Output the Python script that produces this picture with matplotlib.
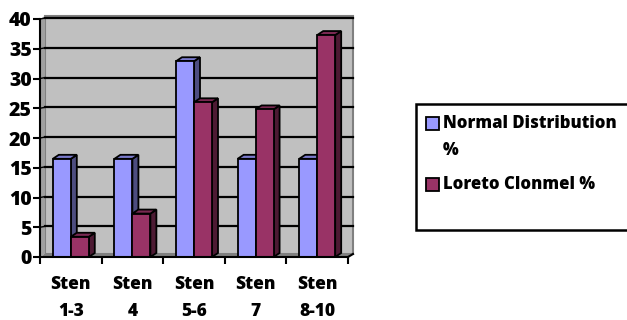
import numpy as np
import matplotlib.pyplot as plt
from matplotlib.patches import Polygon, Rectangle

categories = ['Sten\n1-3', 'Sten\n4', 'Sten\n5-6', 'Sten\n7', 'Sten\n8-10']
normal = [16.5, 16.5, 32.9, 16.5, 16.5]
loreto = [3.4, 7.3, 26.0, 24.8, 37.3]
series_names = ['Normal Distribution\n%', 'Loreto Clonmel %']

W, H = 627, 320
fig = plt.figure(figsize=(W / 100, H / 100), dpi=100)
plt.rcParams['font.family'] = ['Open Sans', 'DejaVu Sans']
WT = 'heavy'

# front plot area in pixels
x0, x1, y0, y1 = 40, 348, 257, 19
ax = fig.add_axes([x0 / W, 1 - y0 / H, (x1 - x0) / W, (y0 - y1) / H])
ax.set_xlim(0, 5)
ax.set_ylim(0, 40)
ax.set_facecolor('none')

# pixel -> data offsets for the 3d look
pxx = 5 / (x1 - x0)
pxy = 40 / (y0 - y1)
wall_dx, wall_dy = 5 * pxx, 3 * pxy
bar_dx, bar_dy = 6 * pxx, 4 * pxy

# back wall, floor and side wall
ax.add_patch(Polygon([(wall_dx, wall_dy), (5 + wall_dx, wall_dy), (5 + wall_dx, 40 + wall_dy),
                      (wall_dx, 40 + wall_dy)], closed=True, fc='#c0c0c0', ec='#808080',
                     lw=1.5, zorder=0, clip_on=False))
ax.add_patch(Polygon([(0, 0), (wall_dx, wall_dy), (wall_dx, 40 + wall_dy), (0, 40)], closed=True,
                     fc='#a0a0a0', ec='none', zorder=0, clip_on=False))
ax.add_patch(Polygon([(0, 0), (5, 0), (5 + wall_dx, wall_dy), (wall_dx, wall_dy)], closed=True,
                     fc='#808080', ec='none', zorder=0, clip_on=False))
for v in range(5, 45, 5):
    ax.plot([wall_dx, 5 + wall_dx], [v + wall_dy * 0.3, v + wall_dy * 0.3], color='black',
            lw=1.6, zorder=1, clip_on=False)
    ax.plot([0, wall_dx], [v, v + wall_dy * 0.3], color='black', lw=1.0, zorder=1, clip_on=False)

bw = 0.292
centers = np.arange(len(categories)) + 0.5
styles = [('#9999ff', '#7a7acc', '#4d4d80'), ('#993366', '#7a2952', '#4d1a33')]
for si, vals in enumerate([normal, loreto]):
    front, top, side = styles[si]
    xs = centers - bw + si * bw
    bars = ax.bar(xs, vals, width=bw, align='edge', color=front, edgecolor='black', lw=1.3,
                  zorder=3 + si)
    for b in bars:
        bx, by, bwid, bh = b.get_x(), b.get_y(), b.get_width(), b.get_height()
        ax.add_patch(Polygon([(bx + bwid, by), (bx + bwid + bar_dx, by + bar_dy),
                              (bx + bwid + bar_dx, bh + bar_dy), (bx + bwid, bh)], closed=True,
                             fc=side, ec='black', lw=1.3, zorder=2.5 + si, clip_on=False))
        ax.add_patch(Polygon([(bx, bh), (bx + bwid, bh), (bx + bwid + bar_dx, bh + bar_dy),
                              (bx + bar_dx, bh + bar_dy)], closed=True,
                             fc=top, ec='black', lw=1.3, zorder=2.5 + si, clip_on=False))

for s in ['top', 'right']:
    ax.spines[s].set_visible(False)
for s in ['left', 'bottom']:
    ax.spines[s].set_linewidth(1.5)
    ax.spines[s].set_zorder(6)
ax.plot([5, 5 + wall_dx], [0, wall_dy], color='black', lw=1.5, clip_on=False, zorder=6)

ax.set_yticks(range(0, 45, 5))
ax.tick_params(axis='y', length=5, width=1.5, labelsize=14, pad=1)
for t in ax.get_yticklabels():
    t.set_fontweight(WT)
ax.set_xticks(centers)
ax.set_xticklabels(categories, fontsize=12.5, fontweight=WT, linespacing=1.75)
ax.set_xticks(np.arange(0, 6), minor=True)
ax.tick_params(axis='x', which='major', length=0, pad=14)
ax.tick_params(axis='x', which='minor', length=5, width=1.5)

# legend drawn by hand
lx0, ly0, lx1, ly1 = 416, 104, 640, 230
fig.patches.append(Rectangle((lx0 / W, 1 - ly1 / H), (lx1 - lx0) / W, (ly1 - ly0) / H,
                             transform=fig.transFigure, fc='white', ec='black', lw=1.8))
for i, (name, (front, _, _)) in enumerate(zip(series_names, styles)):
    sy = [117, 178][i]
    fig.patches.append(Rectangle((426 / W, 1 - (sy + 13) / H), 13 / W, 13 / H,
                                 transform=fig.transFigure, fc=front, ec='black', lw=1.3))
    fig.text(443 / W, 1 - (sy - 2) / H, name, fontsize=12, fontweight=WT, va='top',
             ha='left', linespacing=1.75)

fig.savefig('out.png', dpi=100)
